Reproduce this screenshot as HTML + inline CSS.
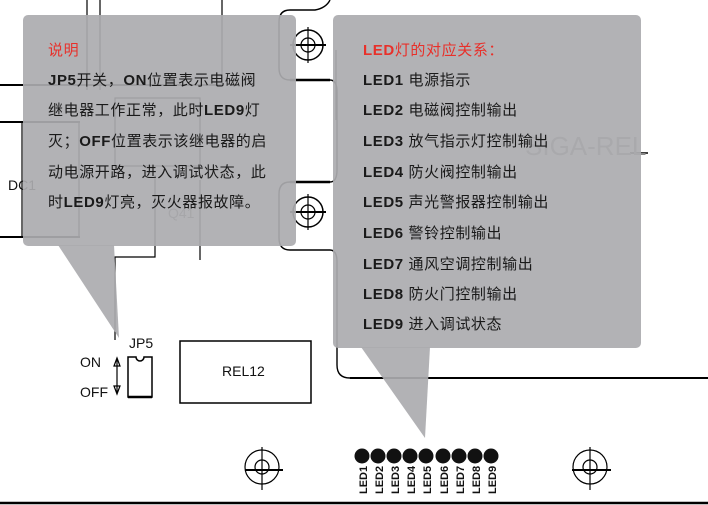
<!DOCTYPE html>
<html><head><meta charset="utf-8"><style>
body{margin:0;width:708px;height:505px;background:#fff;overflow:hidden;position:relative;font-family:"Liberation Sans","Noto Sans CJK SC",sans-serif}
svg{position:absolute;left:0;top:0}
.t{position:absolute;font-size:15px;color:#1a1a1a;white-space:nowrap;letter-spacing:0.6px}
.r{color:#e8302a}
b{font-weight:bold}
</style></head><body>
<svg width="708" height="505" viewBox="0 0 708 505">
<g stroke="#000" fill="none" stroke-width="1.2">
<line x1="87" y1="0" x2="87" y2="90"/><line x1="100" y1="0" x2="100" y2="90"/><line x1="222" y1="0" x2="222" y2="85"/>
<line x1="0" y1="85" x2="222" y2="85" stroke-width="2"/>
<line x1="0" y1="122" x2="80" y2="122" stroke-width="2"/>
<rect x="22" y="122" width="57" height="115"/>
<rect x="115" y="98" width="85" height="68"/>
<line x1="0" y1="237" x2="80" y2="237" stroke-width="2"/>
<polyline points="115,340 115,257 155,257 155,175"/>
<polyline points="200,260 200,180"/>
<path d="M330,0 Q326,8 315,10 L290,10 Q279,10 279,22 L279,68 Q279,80 290,80 L330,80 Q337,80 337,92 L337,170 Q337,182 330,182 L290,182 Q279,182 279,194 L279,238 Q279,250 290,250 L330,250 Q337,250 337,262 L337,365 Q337,378 350,378 L708,378" stroke-width="1.4"/>
<line x1="290" y1="80" x2="330" y2="80" stroke-width="2.5"/>
<line x1="290" y1="182" x2="330" y2="182" stroke-width="2.5"/>
<line x1="350" y1="378" x2="708" y2="378" stroke-width="2"/>
<circle cx="308" cy="45" r="15" stroke-width="1.5"/><circle cx="308" cy="45" r="7"/>
<line x1="290" y1="45" x2="326" y2="45" stroke-width="2"/><line x1="308" y1="27" x2="308" y2="63"/>
<circle cx="308" cy="212" r="15" stroke-width="1.5"/><circle cx="308" cy="212" r="7"/>
<line x1="290" y1="212" x2="326" y2="212" stroke-width="2"/><line x1="308" y1="194" x2="308" y2="230"/>
<line x1="336" y1="50" x2="336" y2="120"/>
<line x1="630" y1="153" x2="648" y2="153" stroke-width="1.5"/>
<circle cx="262" cy="467" r="17"/><circle cx="262" cy="467" r="7"/>
<line x1="245" y1="470" x2="283" y2="470" stroke-width="2"/><line x1="262" y1="447" x2="262" y2="490"/>
<circle cx="590" cy="467" r="17"/><circle cx="590" cy="467" r="7"/>
<line x1="572" y1="470" x2="611" y2="470" stroke-width="2"/><line x1="590" y1="447" x2="590" y2="490"/>
<line x1="0" y1="503" x2="708" y2="503" stroke-width="2.5"/>
<rect x="180" y="341" width="131" height="62" stroke-width="1.5"/>
<path d="M128,357 L136,357 A4,4 0 0 0 144,357 L152,357 L152,397 L128,397 Z" stroke-width="1.5"/>
<line x1="128" y1="397" x2="152" y2="397" stroke-width="2.5"/>
<line x1="117" y1="360" x2="117" y2="392"/>
<path d="M114,366 L117,358 L120,366 Z M114,386 L117,394 L120,386 Z"/>
</g>
<g fill="#111">
<circle cx="362" cy="456" r="7.5"/><circle cx="378" cy="456" r="7.5"/><circle cx="394" cy="456" r="7.5"/><circle cx="410" cy="456" r="7.5"/><circle cx="426" cy="456" r="7.5"/><circle cx="443" cy="456" r="7.5"/><circle cx="459" cy="456" r="7.5"/><circle cx="475" cy="456" r="7.5"/><circle cx="491" cy="456" r="7.5"/>
</g>
<g font-family="Liberation Sans" font-weight="bold" font-size="11" fill="#111">
<text transform="translate(367,494) rotate(-90)">LED1</text><text transform="translate(383,494) rotate(-90)">LED2</text><text transform="translate(399,494) rotate(-90)">LED3</text><text transform="translate(415,494) rotate(-90)">LED4</text><text transform="translate(431,494) rotate(-90)">LED5</text><text transform="translate(448,494) rotate(-90)">LED6</text><text transform="translate(464,494) rotate(-90)">LED7</text><text transform="translate(480,494) rotate(-90)">LED8</text><text transform="translate(496,494) rotate(-90)">LED9</text>
</g>
<g font-family="Liberation Sans" fill="#111" font-size="14">
<text x="129" y="348">JP5</text>
<text x="80" y="367">ON</text><text x="80" y="397">OFF</text>
<text x="222" y="376">REL12</text>
<text x="8" y="190">DC1</text>
<text x="168" y="218" fill="#666">Q41</text>
<text x="525" y="155" font-size="26" fill="#888">SIGA-REL</text>
</g>
<g fill="#ababaf" fill-opacity="0.92">
<rect x="23" y="15" width="273" height="231" rx="5"/>
<polygon points="58,245 114,245 119,338"/>
<rect x="333" y="15" width="308" height="333" rx="5"/>
<polygon points="361,347 430,347 425,438"/>
</g>
</svg>
<div class="t r" style="left:48px;top:39px">说明</div>
<div class="t" style="left:48px;top:69px"><b>JP5</b>开关，<b>ON</b>位置表示电磁阀</div>
<div class="t" style="left:48px;top:99px">继电器工作正常，此时<b>LED9</b>灯</div>
<div class="t" style="left:48px;top:130px">灭；<b>OFF</b>位置表示该继电器的启</div>
<div class="t" style="left:48px;top:161px">动电源开路，进入调试状态，此</div>
<div class="t" style="left:48px;top:191px">时<b>LED9</b>灯亮，灭火器报故障。</div>
<div class="t r" style="left:363px;top:39px"><b>LED</b>灯的对应关系：</div>
<div class="t" style="left:363px;top:69px"><b>LED1</b> 电源指示</div>
<div class="t" style="left:363px;top:99px"><b>LED2</b> 电磁阀控制输出</div>
<div class="t" style="left:363px;top:130px"><b>LED3</b> 放气指示灯控制输出</div>
<div class="t" style="left:363px;top:161px"><b>LED4</b> 防火阀控制输出</div>
<div class="t" style="left:363px;top:191px"><b>LED5</b> 声光警报器控制输出</div>
<div class="t" style="left:363px;top:222px"><b>LED6</b> 警铃控制输出</div>
<div class="t" style="left:363px;top:253px"><b>LED7</b> 通风空调控制输出</div>
<div class="t" style="left:363px;top:283px"><b>LED8</b> 防火门控制输出</div>
<div class="t" style="left:363px;top:313px"><b>LED9</b> 进入调试状态</div>
</body></html>
